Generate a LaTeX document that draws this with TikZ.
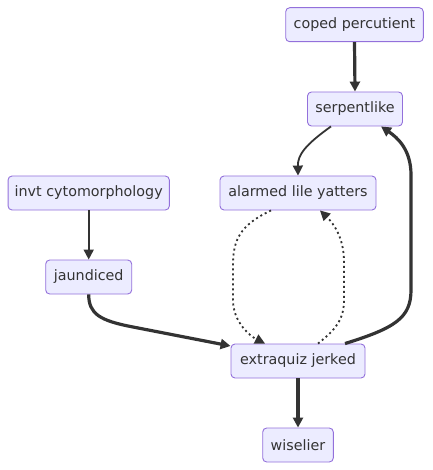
\documentclass[tikz,border=0pt]{standalone}
\usepackage{fontspec}
\setmainfont{DejaVu Sans}
\usetikzlibrary{arrows.meta}
\definecolor{nodefill}{HTML}{ECECFF}
\definecolor{nodeline}{HTML}{9370DB}
\definecolor{edgecol}{HTML}{333333}
\begin{document}
\begin{tikzpicture}[x=1pt,y=-1pt,
  box/.style={draw=nodeline, fill=nodefill, line width=0.9pt, rounded corners=4pt,
    minimum height=34pt, inner sep=0pt, font=\fontsize{14.3}{16}\selectfont, text=edgecol},
  tip/.style={-{Triangle[length=10pt,width=10pt]}},
  normaledge/.style={tip, draw=edgecol, line width=1.8pt},
  thickedge/.style={tip, draw=edgecol, line width=3.2pt},
  dotedge/.style={tip, draw=edgecol, line width=1.8pt, dash pattern=on 2pt off 3pt}]
\useasboundingbox (0,0) rectangle (432,470);
\node[box, minimum width=137.6pt] (coped) at (354.5,24.7) {coped percutient};
\node[box, minimum width=95pt] (serp) at (355,109) {serpentlike};
\node[box, minimum width=156pt] (alarm) at (298,193) {alarmed lile yatters};
\node[box, minimum width=161.3pt] (invt) at (88.7,193) {invt cytomorphology};
\node[box, minimum width=86pt] (jaun) at (88.7,277) {jaundiced};
\node[box, minimum width=134pt] (extra) at (298,361) {extraquiz jerked};
\node[box, minimum width=70.6pt] (wise) at (298,445) {wiselier};

\draw[thickedge] (coped.south) -- (serp.north);
\draw[normaledge] ([xshift=-24pt]serp.south) .. controls (305,145) and (297.7,155) .. (alarm.north);
\draw[normaledge] (invt.south) -- (jaun.north);
\draw[thickedge] (jaun.south) .. controls (88.7,314) and (100,320.7) .. (133,327) -- ([yshift=15pt]extra.west);
\draw[dotedge] ([xshift=-27pt]alarm.south) .. controls (240,225) and (233,240) .. (233,265) -- (233,300) .. controls (233,322) and (250,336) .. ([xshift=-33pt]extra.north);
\draw[dotedge] ([xshift=20pt]extra.north) .. controls (335,330) and (344,320) .. (344,300) -- (344,262) .. controls (344,236) and (332,222) .. ([xshift=22pt]alarm.south);
\draw[thickedge] ([xshift=47pt]extra.north) .. controls (395,328) and (411,318) .. (411,290) -- (411,175) .. controls (411,150) and (398,138) .. ([xshift=26pt]serp.south);
\draw[thickedge] (extra.south) -- (wise.north);
\end{tikzpicture}
\end{document}
